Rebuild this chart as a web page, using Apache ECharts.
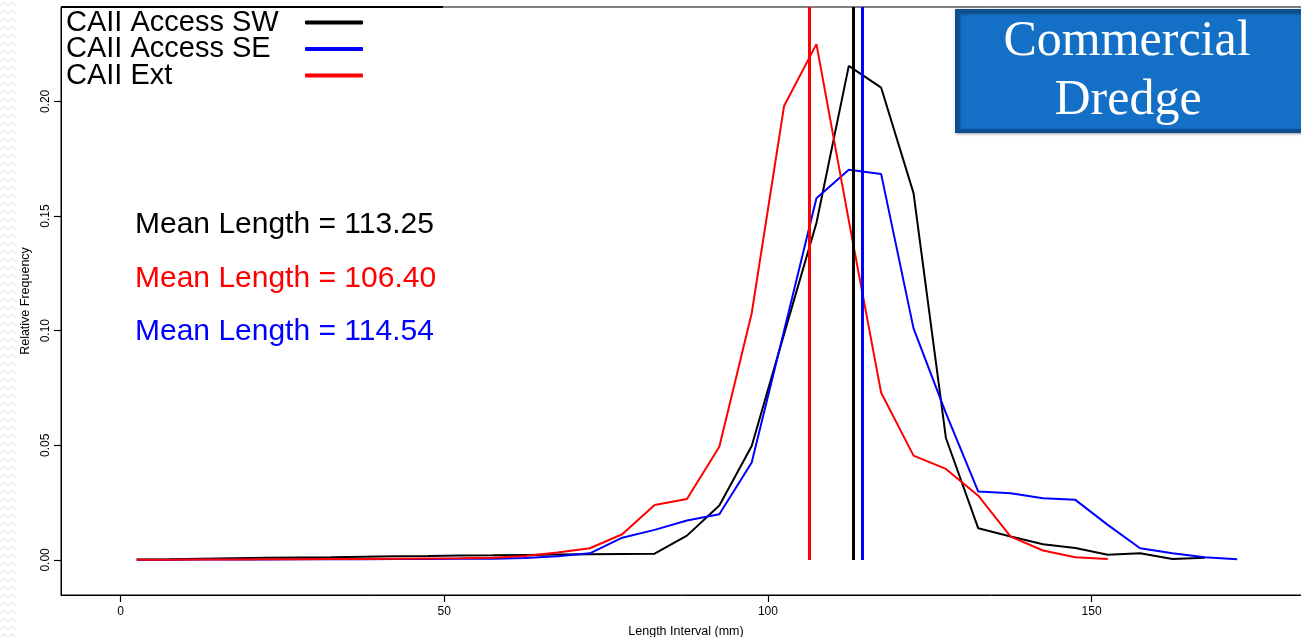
<!DOCTYPE html>
<html>
<head>
<meta charset="utf-8">
<script src="https://cdn.jsdelivr.net/npm/echarts@6/dist/echarts.min.js"></script>
<style>html,body{margin:0;padding:0;background:#fff;}#c{width:1301px;height:637px;}</style>
</head>
<body>
<div id="c"></div>
<script>
// ---- data ----
const lengthMid = [2.5,7.5,12.5,17.5,22.5,27.5,32.5,37.5,42.5,47.5,52.5,57.5,62.5,67.5,72.5,77.5,82.5,87.5,92.5,97.5,102.5,107.5,112.5,117.5,122.5,127.5,132.5,137.5,142.5,147.5,152.5,157.5,162.5,167.5,172.5];
const seriesNames = ['CAII Access SW','CAII Access SE','CAII Ext'];
const seriesColors = ['#000000','#0000ff','#ff0000'];
const accessSW = [0.0002,0.0003,0.0005,0.0007,0.0009,0.0011,0.0012,0.0014,0.0016,0.0017,0.0019,0.0020,0.0022,0.0024,0.0025,0.0026,0.0027,0.0106,0.0237,0.0497,0.0985,0.147,0.2155,0.206,0.160,0.0532,0.0138,0.0102,0.0068,0.0052,0.0023,0.0029,0.0004,0.0009];
const accessSE = [0.0001,0.0001,0.0002,0.0002,0.0002,0.0003,0.0003,0.0003,0.0004,0.0004,0.0005,0.0005,0.0008,0.0016,0.0029,0.0097,0.0131,0.0172,0.0199,0.0425,0.100,0.1578,0.1702,0.1683,0.101,0.064,0.0298,0.0291,0.0269,0.0262,0.0153,0.0051,0.0029,0.0012,0.0003];
const caiiExt = [0.0001,0.0001,0.0002,0.0002,0.0003,0.0003,0.0004,0.0004,0.0005,0.0006,0.0007,0.0010,0.0017,0.0032,0.0051,0.0112,0.024,0.0266,0.0494,0.1076,0.198,0.225,0.148,0.0729,0.0455,0.0397,0.028,0.0102,0.0041,0.0012,0.0004];
const meanLengths = [113.25, 114.54, 106.40];
const meanLabels = ['Mean Length = 113.25','Mean Length = 106.40','Mean Length = 114.54'];
const meanLabelColors = ['#000000','#ff0000','#0000ff'];
const xTicks = [0,50,100,150];
const xTickLabels = ['0','50','100','150'];
const yTicks = [0,0.05,0.10,0.15,0.20];
const yTickLabels = ['0.00','0.05','0.10','0.15','0.20'];
const xAxisTitle = 'Length Interval (mm)';
const yAxisTitle = 'Relative Frequency';
const boxTitle = ['Commercial','Dredge'];

const X_MIN = -9.2, X_MAX = 183.9, Y_MIN = -0.0153, Y_MAX = 0.2412;

const seriesValues = [accessSW, accessSE, caiiExt];
const series = seriesValues.map((vals, i) => ({
  name: seriesNames[i],
  type: 'line',
  data: vals.map((v, j) => [lengthMid[j], v]),
  symbol: 'none',
  smooth: false,
  lineStyle: {color: seriesColors[i], width: 2},
  itemStyle: {color: seriesColors[i]},
  z: 2 + i,
  markLine: {
    silent: true,
    symbol: ['none','none'],
    label: {show: false},
    lineStyle: {color: seriesColors[i], width: 3, type: 'solid'},
    data: [[{coord: [meanLengths[i], 0]}, {coord: [meanLengths[i], Y_MAX]}]]
  }
}));

// decorative zigzag texture on left edge of slide
const deco = [];
for (let r = 0; r < 80; r++) {
  const y0 = 4 + r * 8;
  const pts = [];
  for (let k = 0; k <= 4; k++) pts.push([k * 4, y0 + (k % 2 ? -2 : 2)]);
  deco.push({type:'polyline', silent:true, shape:{points: pts}, style:{stroke:'#e9e9e9', lineWidth:1.2, fill:null}});
}

const graphics = deco.concat([
  {type:'line', silent:true, shape:{x1:61, y1:7, x2:443, y2:7}, style:{stroke:'#000', lineWidth:2}, z:10},
  {type:'rect', silent:true, shape:{x:957, y:11, width:360, height:120}, style:{fill:'#1470c6', stroke:'#0d4e90', lineWidth:4, shadowBlur:3, shadowColor:'rgba(0,0,0,0.35)', shadowOffsetX:1, shadowOffsetY:1}, z:10},
  {type:'text', silent:true, x:1127, y:41.5, style:{text:boxTitle[0], fill:'#ffffff', font:'50px "Liberation Serif", serif', align:'center', verticalAlign:'middle'}, z:11},
  {type:'text', silent:true, x:1128, y:100.5, style:{text:boxTitle[1], fill:'#ffffff', font:'50px "Liberation Serif", serif', align:'center', verticalAlign:'middle'}, z:11}
]);
const meanY = [225, 278.5, 331.7];
meanLabels.forEach((t, i) => {
  graphics.push({type:'text', silent:true, x:135, y:meanY[i], style:{text:t, fill:meanLabelColors[i], font:'30px "Liberation Sans", Arial, sans-serif', align:'left', verticalAlign:'middle'}, z:11});
});

const chart = echarts.init(document.getElementById('c'), null, {renderer:'canvas'});
chart.setOption({
  animation: false,
  backgroundColor: '#ffffff',
  textStyle: {fontFamily: '"Liberation Sans", Arial, sans-serif'},
  grid: {left: 61, top: 7, right: -10, bottom: 42, show: true, borderColor: '#000', borderWidth: 1, backgroundColor: 'transparent', containLabel: false,
    outerBounds: {left: -200, right: -200, top: -200, bottom: -200}},
  legend: {
    show: true,
    orient: 'vertical',
    left: 61, top: 3,
    align: 'right',
    itemGap: -2.5,
    itemWidth: 58, itemHeight: 4,
    icon: 'roundRect',
    data: seriesNames,
    formatter: name => '{a|' + name + '}',
    textStyle: {fontSize: 29, color: '#000', fontFamily: '"Liberation Sans", Arial, sans-serif',
      rich: {a: {width: 234, align: 'left', fontSize: 29, color: '#000', fontFamily: '"Liberation Sans", Arial, sans-serif'}}},
    selectedMode: false
  },
  xAxis: {
    type: 'value', min: X_MIN, max: X_MAX,
    position: 'bottom',
    name: xAxisTitle, nameLocation: 'middle', nameGap: 30,
    nameTextStyle: {fontSize: 12.5, color: '#000'},
    axisLine: {show: true, onZero: false, lineStyle: {color: '#000', width: 1}},
    splitLine: {show: false},
    axisTick: {show: true, inside: false, length: 7, customValues: xTicks, lineStyle: {color: '#000', width: 1.2}},
    axisLabel: {show: true, customValues: xTicks, margin: 11, fontSize: 12, color: '#000',
      formatter: v => xTickLabels[xTicks.indexOf(v)] ?? ''}
  },
  yAxis: {
    type: 'value', min: Y_MIN, max: Y_MAX,
    position: 'left',
    name: yAxisTitle, nameLocation: 'middle', nameGap: 29,
    nameTextStyle: {fontSize: 12.5, color: '#000'},
    axisLine: {show: true, onZero: false, lineStyle: {color: '#000', width: 1}},
    splitLine: {show: false},
    axisTick: {show: true, inside: false, length: 7, customValues: yTicks, lineStyle: {color: '#000', width: 1.2}},
    axisLabel: {show: true, customValues: yTicks, rotate: 90, margin: 9, fontSize: 12, color: '#000',
      formatter: v => { const k = yTicks.findIndex(t => Math.abs(t - v) < 1e-9); return k >= 0 ? yTickLabels[k] : ''; }}
  },
  series: series,
  graphic: graphics
});
</script>
</body>
</html>
